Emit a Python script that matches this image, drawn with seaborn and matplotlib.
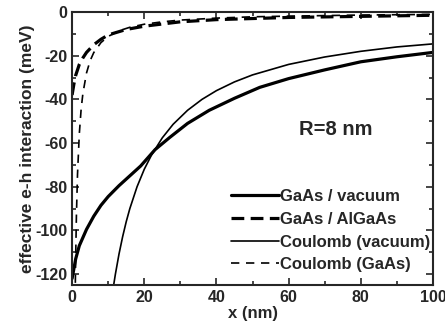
import matplotlib
matplotlib.use("Agg")
import matplotlib.pyplot as plt
import seaborn as sns
import pandas as pd
from matplotlib.ticker import MultipleLocator

# GaAs / vacuum (thick solid)
x_vac = [0, 1, 2, 4, 6, 8, 10, 13, 16, 19, 23, 27, 32, 38, 45, 52, 60, 70, 80, 90, 100]
y_vac = [-122, -113, -107, -99.5, -93.5, -88.5, -84.5, -79.5, -75, -70.5, -63, -57.5,
         -51, -45, -39.5, -34.5, -30.5, -26.5, -22.8, -20.5, -18.5]

# GaAs / AlGaAs (thick dashed)
x_alg = [0, 0.5, 1, 2, 3, 4, 6, 8, 10, 15, 20, 30, 40, 60, 80, 100]
y_alg = [-38, -33, -29, -24, -21, -18.5, -15, -12.5, -10.5, -8, -6.5, -4.5, -3.5, -2.5, -2, -1.5]

# Coulomb (vacuum) (thin solid)
x_cv = [11.5, 12, 13, 14, 15, 16, 18, 20, 22, 25, 28, 32, 36, 40, 45, 50, 60, 70, 80, 90, 100]
y_cv = [-125.2, -120, -110.8, -102.9, -96, -90, -80, -72, -65.5, -57.6, -51.4, -45, -40,
        -36, -32, -28.8, -24, -20.6, -18, -16, -14.6]

# Coulomb (GaAs) (thin dashed)
x_cg = [0.9, 1, 1.2, 1.5, 2, 2.5, 3, 4, 5, 6, 8, 10, 13, 16, 20, 25, 30, 40, 50, 60, 80, 100]
y_cg = [-124, -111.6, -93, -74.4, -55.8, -44.6, -37.2, -27.9, -22.3, -18.6, -14, -11.2,
        -8.6, -7, -5.6, -4.5, -3.7, -2.8, -2.2, -1.9, -1.4, -1.1]

labels = ["GaAs / vacuum", "GaAs / AlGaAs", "Coulomb (vacuum)", "Coulomb (GaAs)"]

sns.set_style("ticks")
plt.rcParams['font.family'] = ['Liberation Sans', 'DejaVu Sans']
plt.rcParams['font.weight'] = 'bold'
plt.rcParams['axes.unicode_minus'] = False

fig = plt.figure(figsize=(4.45, 3.33), dpi=100)
ax = fig.add_axes([0.162, 0.144, 0.811, 0.820])

series = [
    (x_vac, y_vac, dict(lw=2.3, linestyle='-')),
    (x_alg, y_alg, dict(lw=2.3, dashes=(4, 2))),
    (x_cv, y_cv, dict(lw=1.2, linestyle='-')),
    (x_cg, y_cg, dict(lw=1.2, dashes=(5, 4))),
]
for (xs, ys, st), lab in zip(series, labels):
    df = pd.DataFrame({"x": xs, "y": ys})
    sns.lineplot(data=df, x="x", y="y", ax=ax, color="black", sort=False,
                 estimator=None, label=lab, **st)

ax.set_xlim(0, 100)
ax.set_ylim(-125, 0)
ax.xaxis.set_major_locator(MultipleLocator(20))
ax.xaxis.set_minor_locator(MultipleLocator(10))
ax.yaxis.set_major_locator(MultipleLocator(20))
ax.yaxis.set_minor_locator(MultipleLocator(10))
ax.tick_params(which='both', direction='in', top=True, right=True, labelsize=11.5, width=1.2)
ax.tick_params(which='major', length=5)
ax.tick_params(which='minor', length=3)
for s in ax.spines.values():
    s.set_linewidth(1.5)
    s.set_visible(True)

ax.set_xlabel("x (nm)", fontsize=12, fontweight='bold', labelpad=1)
ax.set_ylabel("effective e-h interaction (meV)", fontsize=12.5, fontweight='bold', labelpad=0)

ax.text(63, -54, "R=8 nm", fontsize=14.5, va='center', ha='left')

leg = ax.legend(loc='lower right', bbox_to_anchor=(1.02, 0.01), frameon=False,
                fontsize=12, handlelength=2.9, handletextpad=0.05, labelspacing=0.46,
                borderaxespad=0.2)

fig.savefig("out.png", dpi=100)
